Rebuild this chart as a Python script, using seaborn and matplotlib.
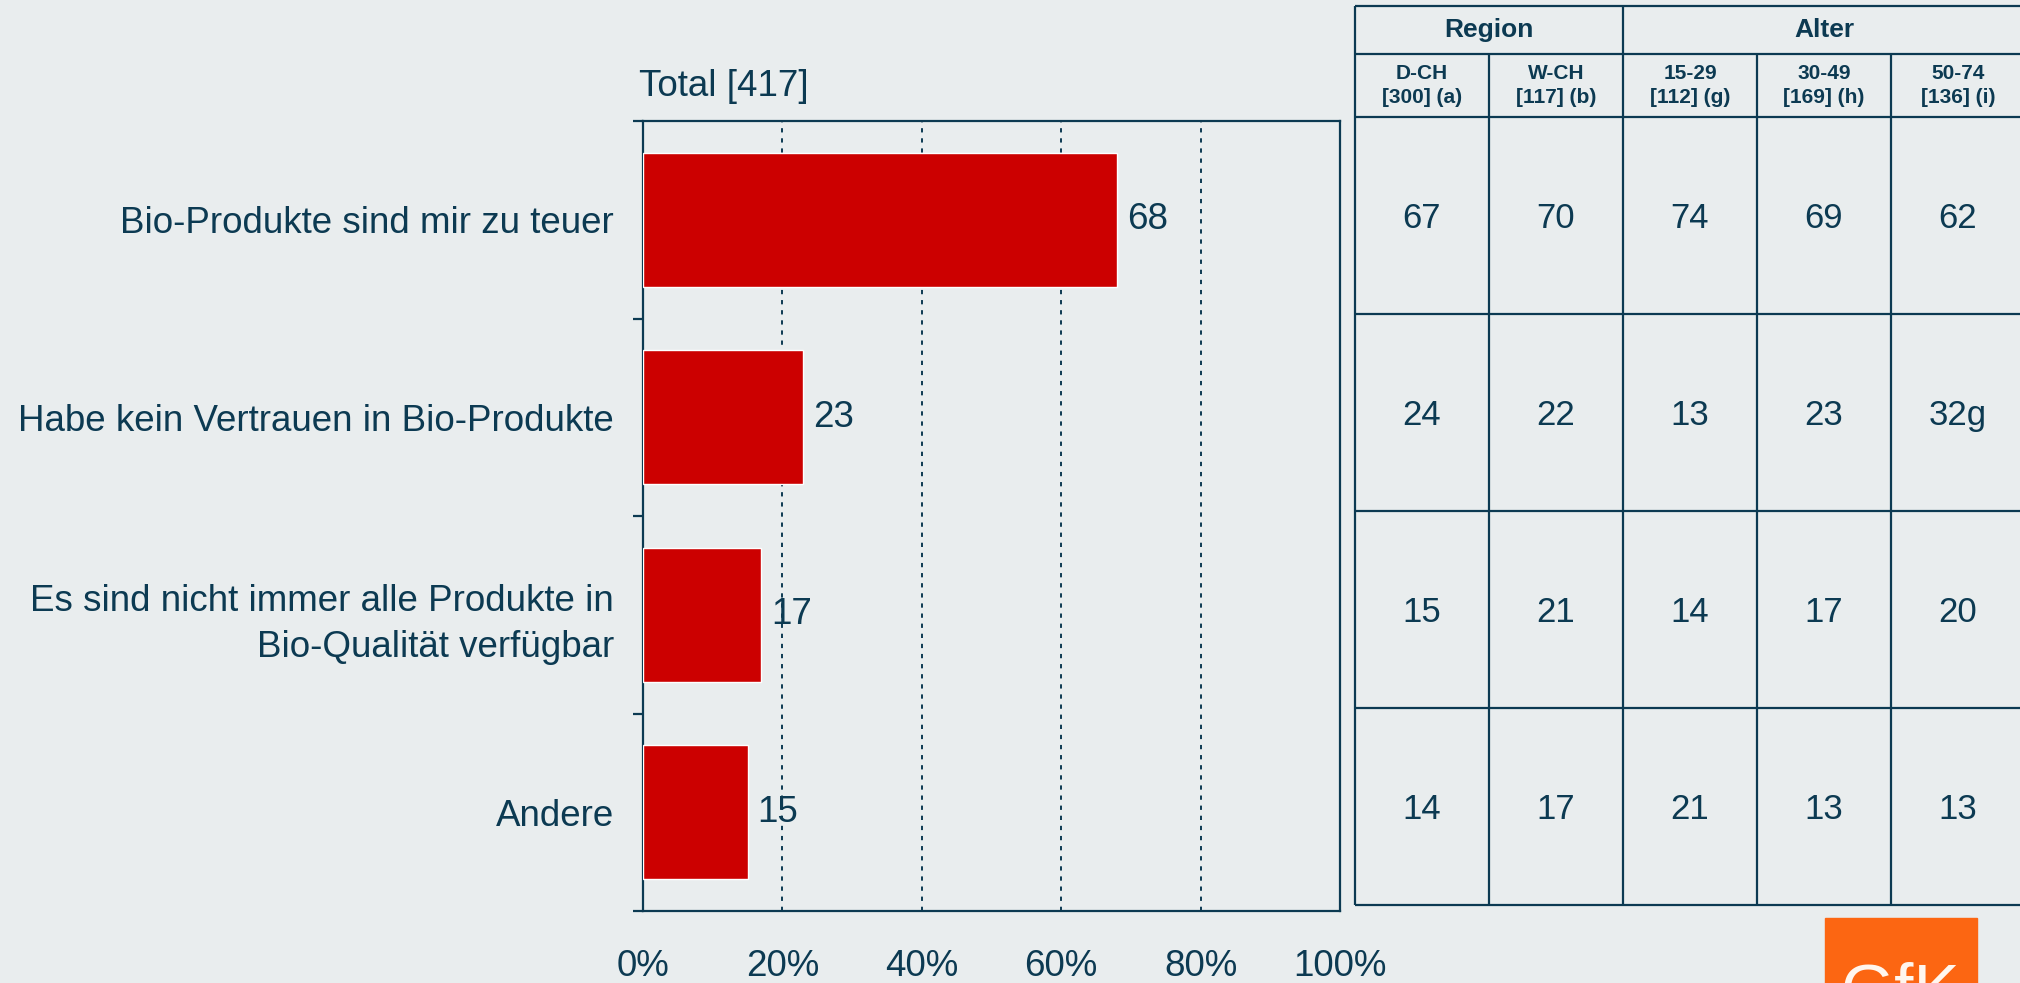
"""
Chart: Gründe gegen Bio-Produkte (Total + Region / Alter table)
"""
import matplotlib
matplotlib.use("Agg")
import matplotlib.pyplot as plt
from matplotlib.patches import Rectangle
import seaborn as sns

# data
categories = [
    "Bio-Produkte sind mir zu teuer",
    "Habe kein Vertrauen in Bio-Produkte",
    "Es sind nicht immer alle Produkte in\nBio-Qualität verfügbar",
    "Andere",
]
total_values = [68, 23, 17, 15]
total_label = "Total [417]"
x_ticks = [0, 20, 40, 60, 80, 100]

group_names = ["Region", "Alter"]
group_spans = [2, 3]
col_headers = ["D-CH\n[300] (a)", "W-CH\n[117] (b)", "15-29\n[112] (g)",
               "30-49\n[169] (h)", "50-74\n[136] (i)"]
d_ch = ["67", "24", "15", "14"]
w_ch = ["70", "22", "21", "17"]
age_15_29 = ["74", "13", "14", "21"]
age_30_49 = ["69", "23", "17", "13"]
age_50_74 = ["62", "32g", "20", "13"]
table_cols = [d_ch, w_ch, age_15_29, age_30_49, age_50_74]

NAVY = "#0c3a52"
BG = "#e9edee"
RED = "#cc0000"
W, H = 2020, 983

sns.set_style("white", {"axes.facecolor": BG, "figure.facecolor": BG})
plt.rcParams["font.family"] = ["Liberation Sans", "DejaVu Sans"]
plt.rcParams["text.color"] = NAVY

fig = plt.figure(figsize=(W / 100, H / 100), dpi=100)
ax = fig.add_axes([643 / W, 1 - 911 / H, (1340 - 643) / W, (911 - 121) / H])

sns.barplot(x=total_values, y=categories, color=RED, width=0.68,
            saturation=1, ax=ax, zorder=3)
ax.set_xlim(0, 100)
ax.set_ylim(3.5, -0.5)
ax.set_xlabel("")
ax.set_ylabel("")

ax.set_xticks(x_ticks)
ax.set_xticklabels([f"{t}%" for t in x_ticks])
ax.set_yticks([-0.5, 0.5, 1.5, 2.5, 3.5], minor=True)
ax.tick_params(axis="x", length=0, pad=27, labelsize=26.5, labelcolor=NAVY)
ax.tick_params(axis="y", which="major", length=0, pad=21, labelsize=26.5,
               labelcolor=NAVY)
ax.tick_params(axis="y", which="minor", length=7.2, width=1.6, color=NAVY,
               left=True)
for lab in ax.get_yticklabels():
    lab.set_linespacing(1.4)

ax.xaxis.grid(True, linestyle=(0, (2.2, 3)), linewidth=1.4, color=NAVY)
ax.yaxis.grid(False)
ax.set_axisbelow(True)
for sp in ax.spines.values():
    sp.set_visible(True)
    sp.set_color(NAVY)
    sp.set_linewidth(1.6)

ax.bar_label(ax.containers[0], labels=[str(v) for v in total_values],
             padding=7, fontsize=26.5, color=NAVY)

fig.text(639 / W, 1 - 87 / H, total_label, fontsize=26.5, color=NAVY,
         ha="left", va="center")

# table on the right
row_h = [48, 63, 197, 197, 197, 197]
tax = fig.add_axes([1355 / W, 1 - 905 / H, (2025 - 1355) / W, sum(row_h) / H])
tax.set_xlim(0, 5)
tax.set_ylim(sum(row_h), 0)
tax.axis("off")

edges = [0]
for h in row_h:
    edges.append(edges[-1] + h)

line_kw = dict(color=NAVY, linewidth=1.6, clip_on=False)
tax.hlines(edges, 0, 5.2, **line_kw)
tax.vlines([0, 2], 0, edges[-1], **line_kw)
tax.vlines([1, 3, 4], edges[1], edges[-1], **line_kw)

start = 0
for name, span in zip(group_names, group_spans):
    tax.text(start + span / 2, (edges[0] + edges[1]) / 2, name,
             fontsize=19, fontweight="bold", ha="center", va="center",
             color=NAVY)
    start += span

for i, hdr in enumerate(col_headers):
    tax.text(i + 0.5, (edges[1] + edges[2]) / 2, hdr, fontsize=15,
             fontweight="bold", ha="center", va="center", color=NAVY,
             linespacing=1.3)

for i, col in enumerate(table_cols):
    for r, val in enumerate(col):
        tax.text(i + 0.5, (edges[r + 2] + edges[r + 3]) / 2 + 3, val,
                 fontsize=25, ha="center", va="center", color=NAVY)

# logo (cut off at the bottom edge, as in the source slide)
fig.patches.append(Rectangle((1825 / W, 0), 152 / W, (H - 918) / H,
                             transform=fig.transFigure, color="#fc6612",
                             zorder=5))
fig.text(1900 / W, -29 / H, "GfK", fontsize=50, color="#fff6ee",
         ha="center", va="baseline", zorder=6)

fig.savefig("out.png", dpi=100, facecolor=BG)
